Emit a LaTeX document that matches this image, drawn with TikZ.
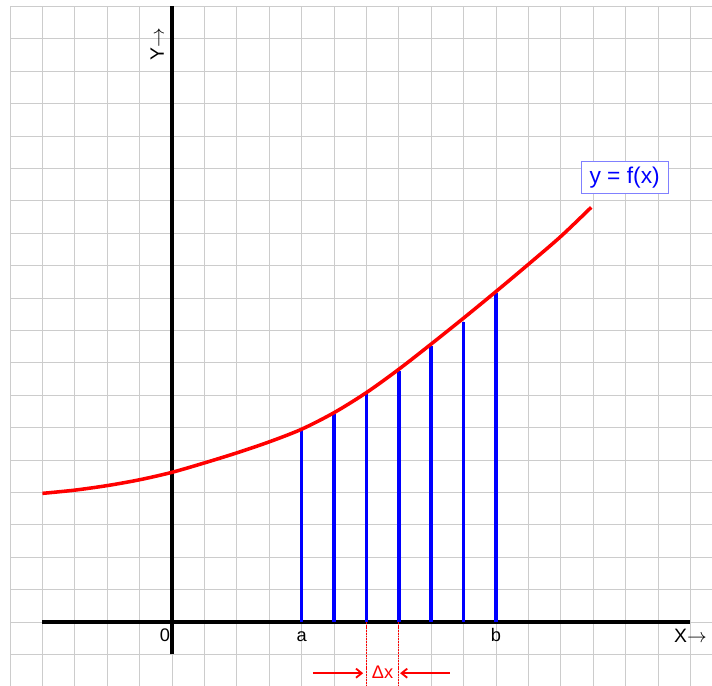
\documentclass[tikz,border=0pt]{standalone}
\usepackage{fontspec}
\setmainfont{Liberation Sans}
\usetikzlibrary{arrows.meta, positioning}

\begin{document}
\begin{tikzpicture}[
    >={Straight Barb[length=5pt,width=8pt]},
    gridline/.style={draw=black!20, line width=0.8pt},
    axis/.style={draw=black, line width=2.9pt},
    curve/.style={draw=red, line width=3.1pt},
    strip/.style={draw=blue, line width=3pt},
    marker/.style={draw=red, line width=1.2pt, dash pattern=on 1.6pt off 0.8pt},
    pointer/.style={draw=red, line width=1.6pt, ->},
    lbl/.style={font=\fontsize{16}{18}\selectfont, inner sep=0pt, anchor=base},
    axlbl/.style={font=\fontsize{17}{19}\selectfont, inner sep=0pt, anchor=base},
    fbox/.style={
        draw=blue!50,
        fill=white,
        text=blue,
        line width=0.8pt,
        minimum width=2.69cm,
        minimum height=0.98cm,
        font=\fontsize{20}{22}\selectfont
    }
]
\useasboundingbox (-5.309,-1.975) rectangle (16.667,19.198);

% grid
\draw[gridline] (-5,-1.975) grid (16.667,19);

% axes
\draw[axis] (0,-1) -- (0,19);
\draw[axis] (-4,0) -- (16,0);

% strips under the curve
\foreach \x/\h in {4/5.93, 5/6.43, 6/7.04, 7/7.76, 8/8.52, 9/9.26, 10/10.14}
    \draw[strip] (\x,0) -- (\x,\h);

% the function
\draw[curve] plot[smooth, tension=0.5] coordinates {(-4,3.97) (-3,4.07) (-2,4.21) (-1,4.39) (0,4.62) (1,4.91) (2,5.22) (3,5.56) (4,5.95) (5,6.46) (6,7.08) (7,7.8) (8,8.58) (9,9.38) (10,10.2) (11,11.04) (12,11.9) (12.94,12.8)};
\node[fbox] (fx) at (13.97,13.72) {y = f(x)};

% labels
\node[lbl] (zero) at (-0.22,-0.61) {0};
\node[lbl] (lbla) at (4,-0.61) {a};
\node[lbl] (lblb) at (10,-0.61) {b};
\node[axlbl] (xlbl) at (16,-0.63) {X$\rightarrow$};
\node[axlbl, rotate=90] (ylbl) at (-0.25,17.84) {Y$\rightarrow$};

% width of one strip
\draw[marker] (6,0) -- (6,-1.975);
\draw[marker] (7,0) -- (7,-1.975);
\node[lbl, anchor=center, text=red] (dx) at (6.5,-1.56) {Δx};
\coordinate (lstart) at (4.35,-1.58);
\coordinate (lend) at (5.9,-1.58);
\coordinate (rstart) at (8.58,-1.58);
\coordinate (rend) at (7.04,-1.58);
\draw[pointer] (lstart) -- (lend);
\draw[pointer] (rstart) -- (rend);
\end{tikzpicture}
\end{document}
